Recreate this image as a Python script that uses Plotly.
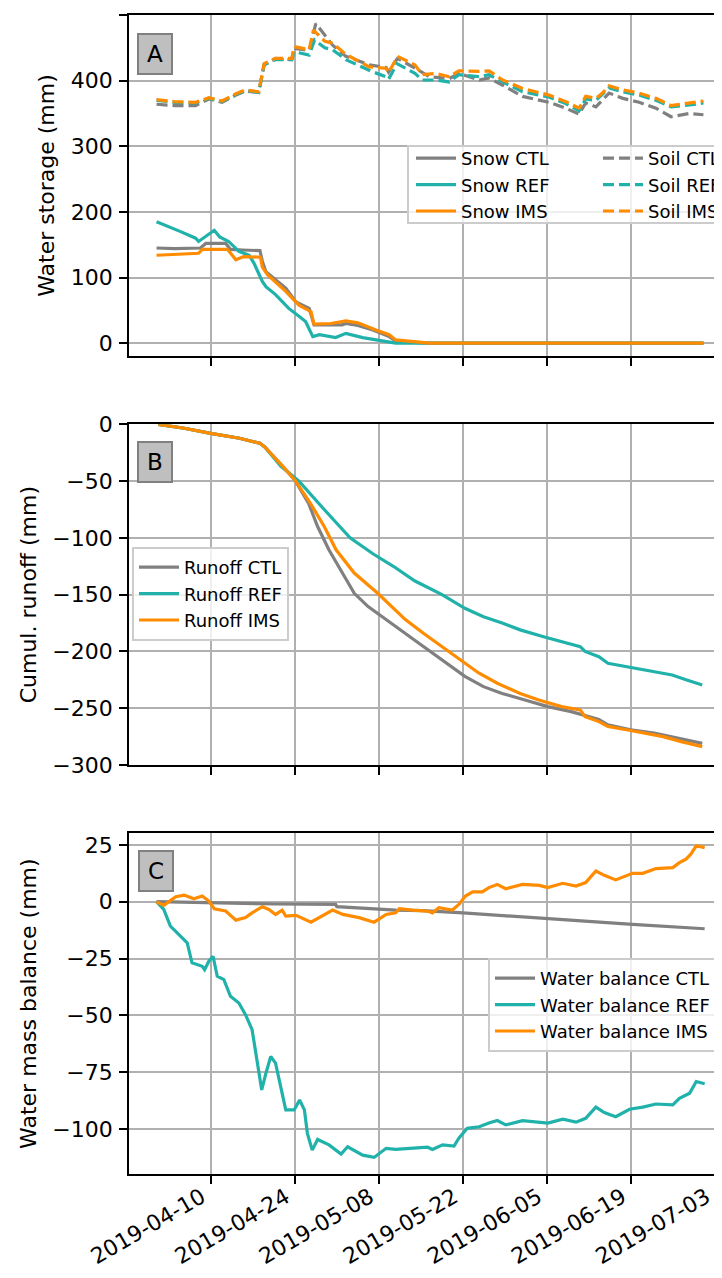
import pandas as pd
import plotly.graph_objects as go

START = pd.Timestamp("2019-04-01")

# ---------------- Panel A: water storage (mm) ----------------
snow_ctl_days = [0, 3, 7.3, 8.2, 11.5, 12.3, 14.3, 17.2, 17.6, 18.2, 20, 21.5, 23.2, 25.4, 26.2, 30.9, 31.5, 33.5, 36, 38.7, 39.8, 41.5, 45.4, 91]
snow_ctl = [145, 144, 145, 152, 152, 143, 142, 141, 125, 109, 95, 84, 63, 53, 28, 28, 30, 27, 20, 10, 3.5, 1.5, 0, 0]

snow_ref_days = [0, 2, 4, 6.5, 7, 9.6, 10.5, 12, 13.7, 15.4, 16.2, 17.6, 18.2, 19.8, 22, 23.7, 24.8, 26, 27.1, 29.8, 31.5, 34.3, 36.5, 38.7, 39.8, 91]
snow_ref = [185, 178, 170, 160, 155, 172, 162, 155, 140, 134, 122, 94, 86, 74, 53, 41, 33, 10, 13, 8.6, 15, 8.6, 5, 2.5, 0, 0]

snow_ims_days = [0, 3, 7, 7.6, 11.8, 13.2, 14.5, 17.3, 17.6, 18.5, 21.5, 23.7, 25.7, 26.2, 29, 31.5, 33.5, 36.5, 38.7, 39.8, 42.6, 45.4, 91]
snow_ims = [134, 135, 137, 143, 143, 127, 132, 131, 116, 104, 79, 58, 48, 29, 30, 34, 31, 20, 13, 5, 2, 0, 0]

soil_ctl_days = [0, 3, 6.5, 8.7, 10.9, 13.2, 14.8, 17, 17.9, 19.8, 22.5, 22.9, 25.4, 26.5, 29.3, 31.5, 35.4, 38.2, 38.6, 40.1, 43, 45.4, 48.7, 50.3, 53.7, 55.3, 57.6, 60.9, 65.3, 68.1, 70.3, 71.4, 73.1, 75.3, 77.6, 80.3, 83.1, 85.6, 88.7, 91]
soil_ctl = [364, 362, 362, 372, 367, 378, 384, 382, 424, 434, 432, 449, 446, 487, 454, 437, 424, 420, 413, 434, 419, 406, 403, 411, 401, 404, 393, 376, 367, 358, 349, 366, 360, 381, 373, 367, 358, 345, 350, 348]

soil_ref_days = [0, 3, 6.5, 8.7, 10.9, 13.2, 14.8, 17, 17.9, 19.8, 22.5, 22.9, 25.4, 26.3, 28, 29.3, 31.5, 35.8, 38.2, 38.6, 40, 43, 44.2, 46.4, 48.7, 50.3, 53.7, 55.3, 57.6, 60.9, 65.3, 68.1, 70.3, 71.4, 73.1, 75.3, 77.6, 80.3, 83.1, 85.6, 88.7, 91]
soil_ref = [370, 367, 366, 373, 368, 379, 385, 382, 424, 432, 432, 444, 439, 462, 450, 447, 432, 414, 406, 402, 426, 411, 401, 401, 398, 409, 406, 409, 398, 383, 375, 365, 354, 372, 370, 389, 383, 378, 370, 360, 363, 366]

soil_ims_days = [0, 3, 6.5, 8.7, 10.9, 13.2, 14.8, 17, 17.9, 19.8, 22.5, 22.9, 25.4, 26.1, 28, 29.3, 31.5, 35.4, 38.2, 38.6, 40.1, 43, 44.2, 46.4, 48.7, 50.3, 53.7, 55.3, 57.6, 60.9, 65.3, 68.1, 70.3, 71.4, 73.1, 74.2, 75.3, 77.6, 80.3, 83.1, 85.6, 88.7, 90.3, 91]
soil_ims = [371, 368, 367, 374, 369, 380, 386, 383, 426, 434, 434, 452, 447, 477, 460, 457, 440, 421, 419, 412, 437, 424, 409, 411, 406, 415, 414, 415, 401, 388, 378, 368, 358, 376, 373, 381, 392, 386, 381, 373, 362, 366, 368, 369]

# ---------------- Panel B: cumulative runoff (mm) ----------------
runoff_ctl_days = [0.3, 4.6, 9, 13.8, 17.2, 18, 21, 23, 25.3, 26.8, 28.7, 31, 32.9, 35.2, 37.5, 39.8, 42.9, 46, 49, 51.3, 54.4, 57.5, 61.3, 65.1, 69, 70.9, 73.6, 75.1, 78.9, 82.8, 86.6, 90.8]
runoff_ctl = [0, -3.5, -8, -12.3, -16.7, -20, -37, -49, -69.6, -90, -110.7, -131, -148.8, -160.5, -169, -178, -190, -201.6, -213, -222, -231, -237, -242.7, -248.6, -253, -256, -260, -264.7, -269, -272, -276.5, -281]

runoff_ref_days = [0.3, 4.6, 9, 13.8, 17.2, 18, 20.7, 23.7, 27.9, 32.2, 36, 39.4, 43, 47.5, 51.3, 54.4, 57.5, 60.5, 64.4, 67.4, 70.5, 71.3, 73.6, 75.1, 78.2, 82.8, 85.8, 88.1, 90.8]
runoff_ref = [0, -3.5, -8, -12.3, -16.7, -20, -37, -50, -75, -100, -114, -125, -138, -150, -162, -169.4, -175, -181, -187, -191.4, -195.8, -200, -204.6, -210.4, -213.4, -217.8, -220.7, -225, -229.5]

runoff_ims_days = [0.3, 4.6, 9, 13.8, 17.2, 18, 21, 23, 25.6, 27.9, 29.9, 32.9, 36.8, 39.1, 41.4, 44.4, 47.5, 50.6, 53.6, 56.7, 60.5, 63.6, 67.4, 70.5, 71.3, 73.6, 75.1, 78.2, 81.2, 84.3, 87.3, 90.8]
runoff_ims = [0, -3.5, -8, -12.3, -16.7, -20, -37, -49, -69.6, -90, -110.7, -131, -148.8, -160.5, -172, -184, -195.8, -207.5, -219, -228, -237, -242.7, -248.6, -251.5, -257.4, -261.8, -266, -269, -272, -275, -279.4, -283.8]

# ---------------- Panel C: water mass balance (mm) ----------------
wb_ctl_days = [0, 9, 20, 29.8, 30, 39.8, 44.2, 51, 65, 79.2, 91.2]
wb_ctl = [0, -0.5, -1, -1.2, -2.2, -3.7, -3.9, -4.9, -7.5, -10, -11.9]

wb_ref_days = [0, 1.2, 2.3, 3.7, 5.1, 5.9, 7.6, 8, 8.7, 9.4, 10.1, 11.2, 12.3, 13.7, 14.8, 15.9, 16.8, 17.5, 18.2, 19, 19.8, 20.7, 21.5, 22.9, 23.8, 24.6, 25.1, 25.9, 26.8, 28.7, 30.7, 31.8, 34.3, 36.2, 38.2, 39.8, 42.6, 45.1, 45.9, 47.6, 49.5, 50.3, 51.7, 53.7, 55.3, 56.7, 58.1, 60.9, 65.1, 67.6, 69.8, 71.4, 73.1, 74.5, 76.4, 78.7, 80.9, 83.1, 85.9, 87, 88.7, 89.8, 91.2]
wb_ref = [0, -3.4, -10.7, -14.4, -18.1, -26.9, -28.4, -29.9, -26.2, -24, -32.8, -34.3, -41.6, -44.6, -49.7, -56.3, -72.5, -82.8, -75.4, -68.1, -71, -82.8, -91.6, -91.6, -87.2, -91.6, -101.9, -109.3, -104.6, -107, -111, -107.8, -111.5, -112.5, -108.5, -109, -108.5, -108, -109, -107, -107.5, -104, -99.7, -99, -97.4, -96.3, -98.2, -96.3, -97.4, -95.7, -97, -95.3, -90.4, -92.8, -94.6, -91.3, -90.4, -89, -89.4, -86.5, -84.3, -79.1, -80.1]

wb_ims_days = [0, 1.2, 3.2, 4.6, 6.2, 7.6, 8.7, 9.6, 11.5, 13.2, 14.8, 15.9, 17.6, 18.7, 19.8, 20.9, 21.5, 23.2, 25.7, 27.6, 29.3, 31, 33.7, 36.2, 38.2, 39.8, 40.4, 42.6, 45.1, 45.9, 47, 49.2, 50.3, 51.4, 52.6, 54.2, 55.3, 56.7, 58.1, 60.9, 63.7, 65.1, 67.6, 69.8, 71.4, 73.1, 74.5, 76.4, 78.1, 79.2, 80.9, 83.1, 85.9, 87, 88.1, 88.9, 89.8, 91.2]
wb_ims = [0, -1.6, 2.2, 2.9, 1.3, 2.5, 0.3, -3.1, -4.1, -8.1, -7, -4.9, -2.2, -3.4, -5.6, -3.7, -6.3, -6, -9, -6.3, -3.7, -5.6, -7, -9, -5.6, -4.9, -3.1, -3.7, -4.1, -4.9, -2.6, -3.7, -1.2, 2.5, 4.3, 4.3, 6.2, 7.6, 5.7, 7.6, 7.2, 6.2, 8.1, 6.9, 8.4, 13.5, 11.6, 9.6, 11.3, 12.5, 12.5, 14.6, 15, 17.2, 18.7, 20.9, 24.6, 23.8]

# ---------------- styling ----------------
GRAY, TEAL, ORANGE = "#808080", "#20b2aa", "#ff8c00"
FONT = "DejaVu Sans"

# The page body adds an 8 px margin; the layout below is expressed in page pixels.
OFF = 8
PL, PR, PT, PB = 129, 731, 15, 1174          # plot area edges on the page
W, H = 760, 1270                              # figure size
ML, MT = PL - OFF, PT - OFF
MR = (OFF + W) - PR
MB = (OFF + H) - PB
PW, PH = PR - PL, PB - PT


def dates(days):
    return [START + pd.Timedelta(days=float(d)) for d in days]


def px_x(sx):
    return (sx - PL) / PW


def px_y(sy):
    return (PB - sy) / PH


fig = go.Figure()

LW = 3.2
DASH = "11px,5px"

for name, dd, vv, col, dash, leg in [
    ("Snow CTL", snow_ctl_days, snow_ctl, GRAY, "solid", "legend"),
    ("Snow REF", snow_ref_days, snow_ref, TEAL, "solid", "legend"),
    ("Snow IMS", snow_ims_days, snow_ims, ORANGE, "solid", "legend"),
    ("Soil CTL", soil_ctl_days, soil_ctl, GRAY, DASH, "legend2"),
    ("Soil REF", soil_ref_days, soil_ref, TEAL, DASH, "legend2"),
    ("Soil IMS", soil_ims_days, soil_ims, ORANGE, DASH, "legend2"),
]:
    fig.add_trace(go.Scatter(x=dates(dd), y=vv, name=name, mode="lines",
                             line=dict(color=col, width=LW, dash=dash),
                             xaxis="x", yaxis="y", legend=leg))

for name, dd, vv, col in [
    ("Runoff CTL", runoff_ctl_days, runoff_ctl, GRAY),
    ("Runoff REF", runoff_ref_days, runoff_ref, TEAL),
    ("Runoff IMS", runoff_ims_days, runoff_ims, ORANGE),
]:
    fig.add_trace(go.Scatter(x=dates(dd), y=vv, name=name, mode="lines",
                             line=dict(color=col, width=LW),
                             xaxis="x2", yaxis="y2", legend="legend3"))

for name, dd, vv, col in [
    ("Water balance CTL", wb_ctl_days, wb_ctl, GRAY),
    ("Water balance REF", wb_ref_days, wb_ref, TEAL),
    ("Water balance IMS", wb_ims_days, wb_ims, ORANGE),
]:
    fig.add_trace(go.Scatter(x=dates(dd), y=vv, name=name, mode="lines",
                             line=dict(color=col, width=LW),
                             xaxis="x3", yaxis="y3", legend="legend4"))

XR = ["2019-03-27 10:00", "2019-07-05 14:00"]
TICKFONT = dict(family=FONT, size=22, color="black")
common_x = dict(range=XR, type="date", tick0="2019-04-10", dtick=14 * 86400000,
                showgrid=True, gridcolor="#b0b0b0", gridwidth=1.9,
                showline=True, linecolor="black", linewidth=1.9, mirror=True,
                ticks="outside", ticklen=8, tickwidth=1.9, tickcolor="black",
                zeroline=False, tickfont=TICKFONT)
common_y = dict(showgrid=True, gridcolor="#b0b0b0", gridwidth=1.9,
                showline=True, linecolor="black", linewidth=1.9,
                ticks="outside", ticklen=8, tickwidth=1.9, tickcolor="black",
                zeroline=False, tickfont=TICKFONT, ticklabelstandoff=2)

LEGFONT = dict(family=FONT, size=18, color="black")
fig.update_layout(
    width=W, height=H,
    margin=dict(l=ML, r=MR, t=MT, b=MB, autoexpand=False),
    paper_bgcolor="white", plot_bgcolor="white",
    font=dict(family=FONT, size=22, color="black"),
    xaxis=dict(common_x, anchor="y", showticklabels=False),
    xaxis2=dict(common_x, anchor="y2", showticklabels=False),
    xaxis3=dict(common_x, anchor="y3", showticklabels=True, tickformat="%Y-%m-%d",
                tickangle=-30, ticklabelstandoff=-8, ticklabelshift=-9),
    yaxis=dict(common_y, domain=[px_y(356), px_y(15)], range=[-19.5, 500],
               tickvals=[0, 100, 200, 300, 400, 500],
               title=dict(text="Water storage (mm)", standoff=10, font=dict(family=FONT, size=22))),
    yaxis2=dict(common_y, domain=[px_y(765), px_y(424.3)], range=[-300, 0],
                tickvals=[0, -50, -100, -150, -200, -250, -300],
                title=dict(text="Cumul. runoff (mm)", standoff=10, font=dict(family=FONT, size=22))),
    yaxis3=dict(common_y, domain=[px_y(1174), px_y(833.3)], range=[-119.8, 30.1],
                tickvals=[25, 0, -25, -50, -75, -100],
                title=dict(text="Water mass balance (mm)", standoff=10, font=dict(family=FONT, size=22))),
    legend=dict(x=px_x(411), y=px_y(140), xanchor="left", yanchor="top",
                bgcolor="rgba(0,0,0,0)", borderwidth=0, itemwidth=40,
                font=LEGFONT, tracegroupgap=0),
    legend2=dict(x=px_x(598), y=px_y(140), xanchor="left", yanchor="top",
                 bgcolor="rgba(0,0,0,0)", borderwidth=0, itemwidth=40,
                 font=LEGFONT, tracegroupgap=0),
    legend3=dict(x=px_x(132), y=px_y(547), xanchor="left", yanchor="top",
                 bgcolor="rgba(255,255,255,0.8)", bordercolor="#cccccc", borderwidth=2, itemwidth=40,
                 font=LEGFONT, tracegroupgap=0),
    legend4=dict(x=px_x(488), y=px_y(958), xanchor="left", yanchor="top",
                 bgcolor="rgba(255,255,255,0.8)", bordercolor="#cccccc", borderwidth=2, itemwidth=40,
                 font=LEGFONT, tracegroupgap=0),
    showlegend=True,
)

# frame of the two-column legend in panel A
fig.add_shape(type="rect", xref="paper", yref="paper",
              x0=px_x(408), x1=px_x(765), y0=px_y(223), y1=px_y(146),
              fillcolor="rgba(255,255,255,0.8)", line=dict(color="#cccccc", width=2), layer="above")

# panel letters
for letter, cx, cy in [("A", 155, 54), ("B", 155, 462.5), ("C", 155.5, 871)]:
    fig.add_annotation(text=letter, xref="paper", yref="paper", x=px_x(cx), y=px_y(cy),
                       xanchor="center", yanchor="middle", showarrow=False,
                       font=dict(family=FONT, size=23, color="black"),
                       bgcolor="#bfbfbf", bordercolor="#808080", borderwidth=2,
                       borderpad=1, width=30, height=36)

fig.write_html("out.html")
